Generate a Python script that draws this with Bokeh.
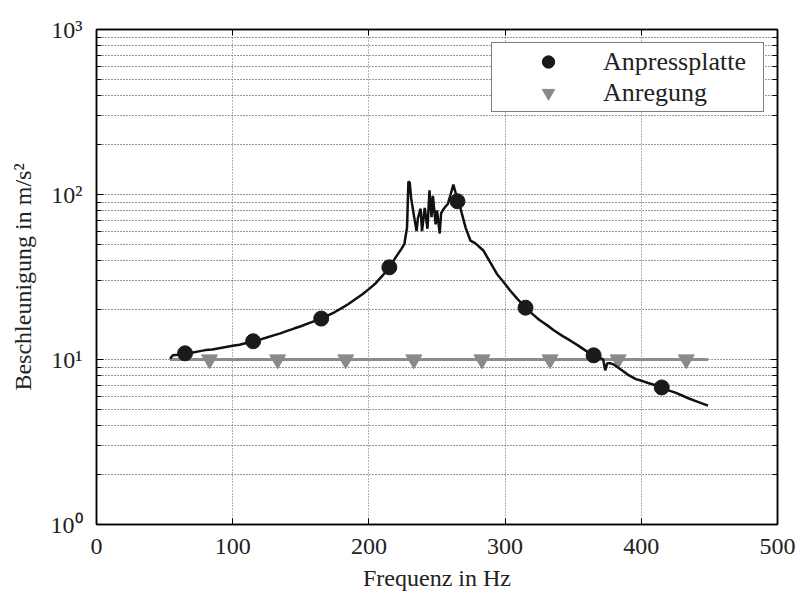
from bokeh.plotting import figure
from bokeh.models import (Range1d, FixedTicker, LinearAxis, LogAxis, Legend, LegendItem,
                          CustomJSTickFormatter)
from bokeh.embed import file_html
from bokeh.resources import INLINE

# ---- data ----
freq_curve = [54, 56, 60, 65, 70, 75, 80, 85, 90, 95, 100, 105, 110, 115, 120, 125, 130,
              135, 140, 145, 150, 155, 160, 165, 170, 175, 180, 185, 190, 195, 200, 205,
              210, 215, 220, 224, 226, 227, 228, 229, 230, 231, 233, 235, 236, 238, 239,
              241, 243, 244.5, 246, 247, 249, 250, 252, 253, 255, 258, 260, 262, 264,
              266, 268, 271, 274.5, 278, 284, 289, 294, 299, 304, 309, 315, 320, 325,
              331, 336, 342, 348, 354, 360, 365, 370, 372, 373.5, 375, 377, 380, 385,
              390, 396, 401, 405, 410, 415, 420, 425, 430, 435, 440, 445, 449]
accel_curve = [10.1, 10.6, 10.7, 10.9, 11.0, 11.2, 11.4, 11.5, 11.7, 11.9, 12.1, 12.3, 12.6,
               12.9, 13.2, 13.6, 14.0, 14.4, 14.9, 15.4, 15.9, 16.5, 17.1, 17.7, 18.5, 19.4,
               20.5, 21.7, 23.2, 24.8, 26.7, 29.0, 32.2, 36.2, 42.0, 47.0, 50.0, 56.0, 63.0,
               120.0, 118.0, 95.0, 75.0, 60.0, 72.0, 82.0, 60.0, 83.0, 62.0, 106.0, 73.0,
               98.0, 66.0, 80.0, 58.0, 77.0, 82.0, 88.0, 100.0, 115.0, 100.0, 91.0, 78.0,
               63.0, 52.6, 50.7, 45.8, 38.9, 33.0, 29.4, 26.0, 23.3, 20.6, 18.9, 17.4,
               16.1, 15.0, 13.9, 13.0, 12.1, 11.2, 10.6, 10.2, 10.0, 8.6, 9.5, 9.5, 9.3,
               8.7, 8.1, 7.6, 7.4, 7.2, 7.0, 6.77, 6.5, 6.3, 6.05, 5.8, 5.6, 5.4, 5.25]

freq_platte = [65, 115, 165, 215, 265, 315, 365, 415]
accel_platte = [10.9, 12.9, 17.7, 36.2, 91.0, 20.6, 10.6, 6.77]

freq_anregung_line = [54, 449]
accel_anregung_line = [10.0, 10.0]
freq_anregung = [83, 133, 183, 233, 283, 333, 383, 433]
accel_anregung = [10.0, 10.0, 10.0, 10.0, 10.0, 10.0, 10.0, 10.0]

x_ticks = [0, 100, 200, 300, 400, 500]
y_ticks = [1, 10, 100, 1000]
y_tick_labels = {1: "10\u2070", 10: "10\u00b9", 100: "10\u00b2", 1000: "10\u00b3"}
y_minor = [m * d for d in (1, 10, 100) for m in range(2, 10)]

legend_labels = ["Anpressplatte", "Anregung"]
x_label = "Frequenz in Hz"
y_label = "Beschleunigung in m/s\u00b2"

FONT = "Liberation Serif"

p = figure(width=800, height=596, x_range=Range1d(0, 500), y_range=Range1d(1, 1000),
           y_axis_type="log", output_backend="svg", toolbar_location=None,
           min_border_left=96, min_border_right=23, min_border_top=29, min_border_bottom=72)

p.outline_line_color = "black"
p.outline_line_width = 1.5
p.background_fill_color = "white"
p.border_fill_color = "white"

# grey excitation line + markers
p.line(freq_anregung_line, accel_anregung_line, line_color="#8c8c8c", line_width=3)
tri = p.scatter(freq_anregung, accel_anregung, marker="inverted_triangle", size=16,
                fill_color="#8a8a8a", line_color="#8a8a8a")
# black response curve + markers
p.line(freq_curve, accel_curve, line_color="#111111", line_width=2.5)
circ = p.scatter(freq_platte, accel_platte, marker="circle", size=15,
                 fill_color="#1a1a1a", line_color="#1a1a1a")

# axes
xt = FixedTicker(ticks=x_ticks)
yt = FixedTicker(ticks=y_ticks, minor_ticks=y_minor)

for ax in p.xaxis:
    ax.ticker = xt
    ax.major_tick_in = 6
    ax.major_tick_out = 0
    ax.minor_tick_in = 0
    ax.minor_tick_out = 0
    ax.axis_label = x_label
    ax.axis_label_text_font = FONT
    ax.axis_label_text_font_size = "24px"
    ax.axis_label_text_font_style = "normal"
    ax.axis_label_text_color = "#222222"
    ax.major_label_text_font = FONT
    ax.major_label_text_font_size = "24px"
    ax.major_label_text_color = "#222222"
    ax.major_label_standoff = 14
    ax.axis_label_standoff = 8
    ax.axis_line_width = 1.5

for ax in p.yaxis:
    ax.ticker = yt
    ax.major_label_overrides = y_tick_labels
    ax.major_tick_in = 7
    ax.major_tick_out = 0
    ax.minor_tick_in = 5
    ax.minor_tick_out = 0
    ax.axis_label = y_label
    ax.axis_label_text_font = FONT
    ax.axis_label_text_font_size = "24px"
    ax.axis_label_text_font_style = "normal"
    ax.axis_label_text_color = "#222222"
    ax.major_label_text_font = FONT
    ax.major_label_text_font_size = "24px"
    ax.major_label_text_color = "#222222"
    ax.major_label_standoff = 14
    ax.axis_label_standoff = 12
    ax.axis_line_width = 1.5

top = LinearAxis(ticker=FixedTicker(ticks=x_ticks), formatter=CustomJSTickFormatter(code="return ''"),
                 major_tick_in=6, major_tick_out=0, minor_tick_in=0, minor_tick_out=0,
                 major_label_standoff=0, axis_line_width=1.5)
right = LogAxis(ticker=FixedTicker(ticks=y_ticks, minor_ticks=y_minor),
                formatter=CustomJSTickFormatter(code="return ''"), major_tick_in=7,
                major_tick_out=0, minor_tick_in=5, minor_tick_out=0,
                major_label_standoff=0, axis_line_width=1.5)
p.add_layout(top, "above")
p.add_layout(right, "right")

# grid
p.xgrid.ticker = xt
p.xgrid.grid_line_color = "#666666"
p.xgrid.grid_line_dash = "1 2"
p.xgrid.grid_line_width = 1
p.ygrid.ticker = yt
p.ygrid.grid_line_color = "#333333"
p.ygrid.grid_line_dash = "1 2"
p.ygrid.minor_grid_line_color = "#333333"
p.ygrid.minor_grid_line_dash = "1 2"

legend = Legend(items=[LegendItem(label=legend_labels[0], renderers=[circ]),
                       LegendItem(label=legend_labels[1], renderers=[tri])],
                location="top_right", margin=13, padding=3, spacing=0,
                glyph_width=106, glyph_height=31, label_standoff=2, label_width=157,
                border_line_color="black", border_line_width=1.5,
                background_fill_color="white", background_fill_alpha=1.0,
                label_text_font=FONT, label_text_font_size="26px",
                label_text_color="#222222")
p.add_layout(legend)

open("out.html", "w").write(file_html(p, INLINE))
